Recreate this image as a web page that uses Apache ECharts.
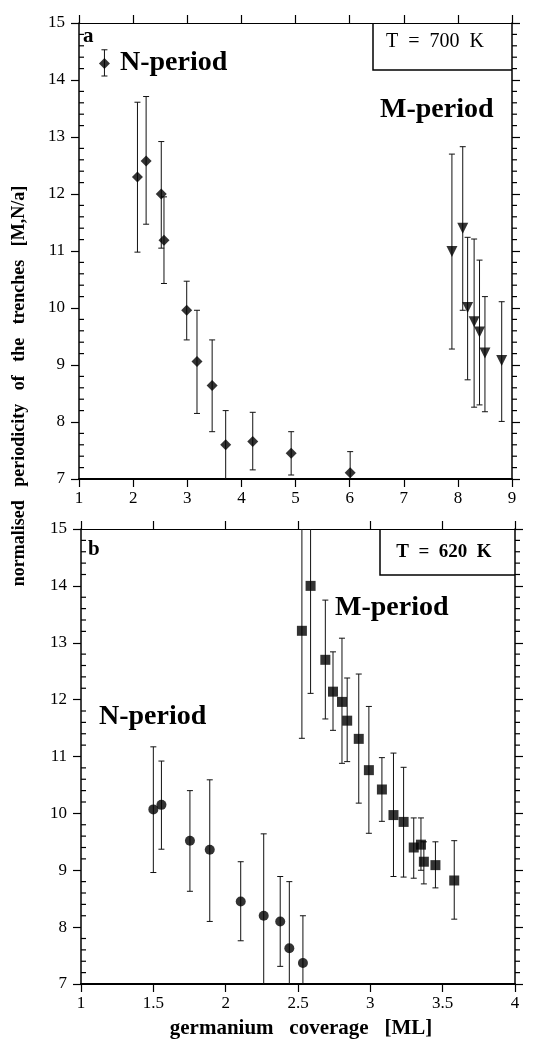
<!DOCTYPE html>
<html>
<head>
<meta charset="utf-8">
<script src="https://cdn.jsdelivr.net/npm/echarts@6/dist/echarts.min.js"></script>
<style>
html, body { margin: 0; padding: 0; background: #fff; }
#chart { width: 538px; height: 1041px; }
</style>
</head>
<body>
<div id="chart"></div>
<script>
// panel a, T = 700 K
var topNx = [2.08, 2.24, 2.52, 2.57, 2.99, 3.18, 3.46, 3.71, 4.21, 4.92, 6.01];
var topNy = [12.30, 12.58, 12.00, 11.19, 9.96, 9.06, 8.64, 7.60, 7.66, 7.45, 7.11];
var topNhi = [13.61, 13.71, 12.92, 11.95, 10.47, 9.96, 9.44, 8.20, 8.17, 7.83, 7.48];
var topNlo = [10.98, 11.47, 11.05, 10.43, 9.44, 8.15, 7.83, 6.8, 7.16, 7.07, 6.8];

var topMx = [7.89, 8.09, 8.18, 8.30, 8.40, 8.50, 8.81];
var topMy = [10.99, 11.40, 10.01, 9.76, 9.58, 9.21, 9.08];
var topMhi = [12.70, 12.83, 11.24, 11.21, 10.84, 10.20, 10.11];
var topMlo = [9.28, 9.96, 8.74, 8.26, 8.30, 8.18, 8.01];

// legend symbol drawn inside panel a
var keyX = [1.47];
var keyY = [14.29];
var keyHi = [14.53];
var keyLo = [14.07];

// panel b, T = 620 K
var botMx = [2.527, 2.587, 2.689, 2.742, 2.804, 2.84, 2.92, 2.99, 3.08, 3.16, 3.23, 3.30, 3.35, 3.37, 3.45, 3.58];
var botMy = [13.21, 14.0, 12.70, 12.14, 11.96, 11.63, 11.31, 10.76, 10.42, 9.97, 9.85, 9.40, 9.45, 9.15, 9.09, 8.82];
var botMhi = [15.5, 15.5, 13.75, 12.84, 13.08, 12.38, 12.45, 11.88, 10.98, 11.06, 10.81, 9.92, 9.92, 9.50, 9.50, 9.52];
var botMlo = [11.32, 12.11, 11.66, 11.46, 10.88, 10.91, 10.18, 9.65, 9.86, 8.89, 8.88, 8.86, 9.0, 8.76, 8.69, 8.14];

var botNx = [1.50, 1.556, 1.753, 1.89, 2.104, 2.263, 2.377, 2.44, 2.534];
var botNy = [10.07, 10.15, 9.52, 9.36, 8.45, 8.20, 8.10, 7.63, 7.37];
var botNhi = [11.17, 10.92, 10.40, 10.59, 9.15, 9.64, 8.89, 8.80, 8.20];
var botNlo = [8.96, 9.37, 8.63, 8.10, 7.76, 6.8, 7.31, 6.8, 6.8];

// minor tick positions on the y axes
var yMinorTicks = [7.2, 7.4, 7.6, 7.8, 8.2, 8.4, 8.6, 8.8, 9.2, 9.4, 9.6, 9.8,
    10.2, 10.4, 10.6, 10.8, 11.2, 11.4, 11.6, 11.8, 12.2, 12.4, 12.6, 12.8,
    13.2, 13.4, 13.6, 13.8, 14.2, 14.4, 14.6, 14.8];

var serif = 'Liberation Serif';

function pts(xs, ys) {
    return xs.map(function (x, i) { return [x, ys[i]]; });
}
function bars(xs, lo, hi) {
    return xs.map(function (x, i) { return [x, lo[i], hi[i]]; });
}

function errRender(params, api) {
    var x = api.value(0);
    var p1 = api.coord([x, api.value(2)]);
    var p2 = api.coord([x, api.value(1)]);
    var w = 3;
    var st = { stroke: '#111', lineWidth: 1 };
    return {
        type: 'group',
        children: [
            { type: 'line', shape: { x1: p1[0], y1: p1[1], x2: p2[0], y2: p2[1] }, style: st },
            { type: 'line', shape: { x1: p1[0] - w, y1: p1[1], x2: p1[0] + w, y2: p1[1] }, style: st },
            { type: 'line', shape: { x1: p2[0] - w, y1: p2[1], x2: p2[0] + w, y2: p2[1] }, style: st }
        ]
    };
}

// short marks on the left (inside) and right (outside) frame at each minor value
function minorRender(params, api) {
    var y = api.coord([api.value(0), api.value(1)])[1];
    var cs = params.coordSys;
    var st = { stroke: '#000', lineWidth: 1.2 };
    return {
        type: 'group',
        children: [
            { type: 'line', shape: { x1: cs.x, y1: y, x2: cs.x + 5, y2: y }, style: st },
            { type: 'line', shape: { x1: cs.x + cs.width, y1: y, x2: cs.x + cs.width + 5, y2: y }, style: st }
        ]
    };
}

function errSeries(data, g) {
    return {
        type: 'custom', xAxisIndex: g * 2, yAxisIndex: g * 2, clip: true,
        renderItem: errRender, encode: { x: 0, y: [1, 2] }, data: data, z: 2
    };
}
function dotSeries(data, g, symbol, size, rot) {
    return {
        type: 'scatter', xAxisIndex: g * 2, yAxisIndex: g * 2,
        symbol: symbol, symbolSize: size, symbolRotate: rot || 0,
        itemStyle: { color: '#000' }, data: data, z: 3
    };
}
function minorSeries(g) {
    return {
        type: 'custom', xAxisIndex: g * 2, yAxisIndex: g * 2, silent: true,
        renderItem: minorRender, encode: { x: 0, y: 1 },
        data: yMinorTicks.map(function (v) { return [1, v]; }), z: 4
    };
}

function xAx(g, pos, min, max, step, show) {
    return {
        type: 'value', gridIndex: g, position: pos, min: min, max: max, interval: step,
        axisLine: { show: true, onZero: false, lineStyle: { color: '#000', width: pos === 'bottom' ? 2 : 1.2 } },
        axisTick: { show: true, inside: false, length: 8, lineStyle: { color: '#000', width: 1.2 } },
        axisLabel: {
            show: show, color: '#000', fontFamily: serif, fontSize: 17, margin: 11,
            formatter: function (v) { return String(Math.round(v * 10) / 10); }
        },
        splitLine: { show: false }
    };
}
function yAx(g, pos, show) {
    return {
        type: 'value', gridIndex: g, position: pos, min: 7, max: 15, interval: 1,
        axisLine: { show: true, onZero: false, lineStyle: { color: '#000', width: 1.5 } },
        axisTick: { show: true, inside: false, length: 8, lineStyle: { color: '#000', width: 1.2 } },
        axisLabel: { show: show, color: '#000', fontFamily: serif, fontSize: 17, margin: 14 },
        splitLine: { show: false }
    };
}

var chart = echarts.init(document.getElementById('chart'), null, { renderer: 'canvas' });

var option = {
    animation: false,
    backgroundColor: '#fff',
    textStyle: { fontFamily: serif },
    grid: [
        { left: 79, right: 26, top: 23, height: 456 },
        { left: 81, right: 23, top: 529, height: 455 }
    ],
    xAxis: [
        xAx(0, 'bottom', 1, 9, 1, true),
        xAx(0, 'top', 1, 9, 1, false),
        xAx(1, 'bottom', 1, 4, 0.5, true),
        xAx(1, 'top', 1, 4, 0.5, false)
    ],
    yAxis: [
        yAx(0, 'left', true),
        yAx(0, 'right', false),
        yAx(1, 'left', true),
        yAx(1, 'right', false)
    ],
    series: [
        minorSeries(0),
        minorSeries(1),
        errSeries(bars(topNx, topNlo, topNhi), 0),
        dotSeries(pts(topNx, topNy), 0, 'diamond', 11),
        errSeries(bars(topMx, topMlo, topMhi), 0),
        dotSeries(pts(topMx, topMy), 0, 'triangle', 11, 180),
        errSeries(bars(keyX, keyLo, keyHi), 0),
        dotSeries(pts(keyX, keyY), 0, 'diamond', 11),
        errSeries(bars(botMx, botMlo, botMhi), 1),
        dotSeries(pts(botMx, botMy), 1, 'rect', 10),
        errSeries(bars(botNx, botNlo, botNhi), 1),
        dotSeries(pts(botNx, botNy), 1, 'circle', 10)
    ],
    graphic: [
        // temperature boxes
        { type: 'polyline', shape: { points: [[373, 23], [373, 70], [512, 70]] }, style: { stroke: '#000', lineWidth: 1.5, fill: null } },
        { type: 'text', x: 435, y: 42, style: { text: 'T  =  700  K', font: '20px ' + serif, fill: '#000', align: 'center', verticalAlign: 'middle' } },
        { type: 'polyline', shape: { points: [[380, 529], [380, 575], [515, 575]] }, style: { stroke: '#000', lineWidth: 1.5, fill: null } },
        { type: 'text', x: 444, y: 552, style: { text: 'T  =  620  K', font: 'bold 19px ' + serif, fill: '#000', align: 'center', verticalAlign: 'middle' } },
        // panel letters and period labels
        { type: 'text', x: 83, y: 37, style: { text: 'a', font: 'bold 21px ' + serif, fill: '#000', verticalAlign: 'middle' } },
        { type: 'text', x: 120, y: 63, style: { text: 'N-period', font: 'bold 28px ' + serif, fill: '#000', verticalAlign: 'middle' } },
        { type: 'text', x: 380, y: 110, style: { text: 'M-period', font: 'bold 28px ' + serif, fill: '#000', verticalAlign: 'middle' } },
        { type: 'text', x: 88, y: 550, style: { text: 'b', font: 'bold 21px ' + serif, fill: '#000', verticalAlign: 'middle' } },
        { type: 'text', x: 335, y: 608, style: { text: 'M-period', font: 'bold 28px ' + serif, fill: '#000', verticalAlign: 'middle' } },
        { type: 'text', x: 99, y: 717, style: { text: 'N-period', font: 'bold 28px ' + serif, fill: '#000', verticalAlign: 'middle' } },
        // axis titles
        {
            type: 'text', x: 19, y: 386, rotation: Math.PI / 2,
            style: { text: 'normalised   periodicity   of   the   trenches   [M,N/a]', font: 'bold 18px ' + serif, fill: '#000', align: 'center', verticalAlign: 'middle' }
        },
        {
            type: 'text', x: 301, y: 1029,
            style: { text: 'germanium   coverage   [ML]', font: 'bold 21px ' + serif, fill: '#000', align: 'center', verticalAlign: 'middle' }
        }
    ]
};

chart.setOption(option);
</script>
</body>
</html>
